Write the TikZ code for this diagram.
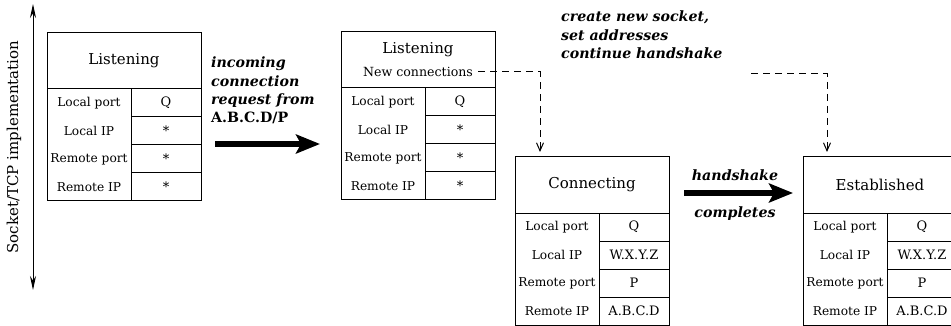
\documentclass[tikz,border=0pt]{standalone}
\usepackage{fontspec}
\setmainfont{DejaVu Serif}
\usetikzlibrary{arrows.meta,calc}
\begin{document}
\begin{tikzpicture}[x=1pt,y=-1pt,
  frame/.style={draw,line width=1pt,outer sep=0pt},
  titlebox/.style={frame,rectangle,minimum width=154pt,minimum height=56pt,inner sep=0pt,anchor=north west,font=\fontsize{15}{18}\selectfont},
  lcol/.style={frame,rectangle,minimum width=84pt,minimum height=112pt,inner sep=0pt,anchor=north west},
  valcell/.style={frame,rectangle,minimum width=70pt,minimum height=28pt,inner sep=0pt,anchor=north west,font=\fontsize{13}{15}\selectfont},
  celltxt/.style={inner sep=0pt,font=\fontsize{12.2}{14}\selectfont},
  lbl/.style={inner sep=0pt,align=left,font=\fontsize{14.2}{18.3}\selectfont\bfseries\itshape},
  bigarrow/.style={line width=6pt,-{Stealth[length=24pt,width=19pt,inset=5pt]}},
  dashconn/.style={line width=1pt,dash pattern=on 7pt off 5pt,-{Straight Barb[length=8pt,width=7pt,line width=1pt]}}
]
\useasboundingbox (0,0) rectangle (951,326);
\clip (0,0) rectangle (951,326);

% sockbox: name, x, y, title, v1, v2, v3, v4
\newcommand\sockbox[8]{%
  \node[titlebox] (#1) at (#2,#3) {#4};
  \node[lcol] (#1-lc) at (#1.south west) {};
  \node[valcell] (#1-v1) at (#1-lc.north east) {#5};
  \node[valcell] (#1-v2) at (#1-v1.south west) {#6};
  \node[valcell] (#1-v3) at (#1-v2.south west) {#7};
  \node[valcell] (#1-v4) at (#1-v3.south west) {#8};
  \node[celltxt] (#1-l1) at (#1-lc.center |- #1-v1.center) {Local port};
  \node[celltxt] (#1-l2) at (#1-lc.center |- #1-v2.center) {Local IP};
  \node[celltxt] (#1-l3) at (#1-lc.center |- #1-v3.center) {Remote port};
  \node[celltxt] (#1-l4) at (#1-lc.center |- #1-v4.center) {Remote IP};
}

% side axis
\coordinate (vt) at (33,4);
\coordinate (vb) at (33,290);
\draw[line width=1pt,{Stealth[length=14pt,width=6pt]}-{Stealth[length=14pt,width=6pt]}] (vt) -- (vb);
\node[rotate=90,inner sep=0pt,font=\fontsize{15}{17}\selectfont] (axislbl) at (14,147) {Socket/TCP implementation};

% boxes
\sockbox{b1}{47}{33}{Listening}{Q}{*}{*}{*}
\sockbox{b2}{341}{32}{}{Q}{*}{*}{*}
\node[inner sep=0pt,font=\fontsize{15}{18}\selectfont] (b2t) at (418,50) {Listening};
\node[inner sep=0pt,font=\fontsize{12.6}{14}\selectfont] (newconn) at (418,72) {New connections};
\sockbox{b3}{515}{157}{Connecting}{Q}{W.X.Y.Z}{P}{A.B.C.D}
\sockbox{b4}{803}{157}{Established}{Q}{W.X.Y.Z}{P}{A.B.C.D}

% incoming arrow
\node[lbl,anchor=north west] (inc) at (211,57) {incoming\\connection\\request from\\\textup{A.B.C.D/P}};
\coordinate (a1s) at (215,144);
\coordinate (a1e) at (320,144);
\draw[bigarrow] (a1s) -- (a1e);

% create text
\node[lbl,anchor=north west] (create) at (561,11) {create new socket,\\set addresses\\continue handshake};

% dashed connectors
\draw[dashconn] ([xshift=5pt]newconn.east) -| ($(b3.north west)+(25,-5)$);
\coordinate (d2s) at (751,74);
\draw[dashconn] (d2s) -| ($(b4.north west)+(24,-5)$);

% handshake arrow
\node[lbl,align=center] (hs) at (735,175) {handshake};
\node[lbl,align=center] (hc) at (735,214) {completes};
\coordinate (a2s) at (684,193);
\coordinate (a2e) at (793,193);
\draw[bigarrow] (a2s) -- (a2e);
\end{tikzpicture}
\end{document}
